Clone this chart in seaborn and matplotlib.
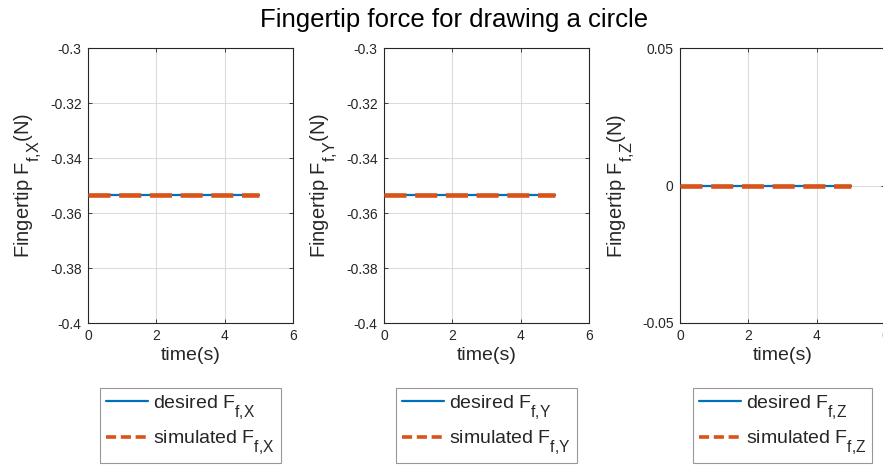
import inspect
import numpy as np
import pandas as pd
import matplotlib
matplotlib.use("Agg")
import matplotlib.pyplot as plt
import matplotlib._mathtext as mt
import seaborn as sns

# Time samples (s) and fingertip force components (N)
time_s = [0.0, 1.0, 2.0, 3.0, 4.0, 5.0]
desired_fx = [-0.3536, -0.3536, -0.3536, -0.3536, -0.3536, -0.3536]
simulated_fx = [-0.3536, -0.3536, -0.3536, -0.3536, -0.3536, -0.3536]
desired_fy = [-0.3536, -0.3536, -0.3536, -0.3536, -0.3536, -0.3536]
simulated_fy = [-0.3536, -0.3536, -0.3536, -0.3536, -0.3536, -0.3536]
desired_fz = [0.0, 0.0, 0.0, 0.0, 0.0, 0.0]
simulated_fz = [0.0, 0.0, 0.0, 0.0, 0.0, 0.0]

axis_names = ["X", "Y", "Z"]
x_ticks = [0, 2, 4, 6]
y_ticks_xy = [-0.4, -0.38, -0.36, -0.34, -0.32, -0.3]
y_ticklabels_xy = ["-0.4", "-0.38", "-0.36", "-0.34", "-0.32", "-0.3"]
y_ticks_z = [-0.05, 0, 0.05]
y_ticklabels_z = ["-0.05", "0", "0.05"]

sns.set_theme(style="white")
plt.rcParams["font.family"] = ["Liberation Sans", "DejaVu Sans"]
plt.rcParams["mathtext.default"] = "regular"

# TeX-style subscripts: larger and dropped lower than matplotlib's default
mt.SHRINK_FACTOR = 0.8
_sub_src = inspect.getsource(mt.Parser.subsuper)
_sub1 = 0.95 if "sub1 * xHeight" in _sub_src else 9.0
for _c in {mt.FontConstantsBase, *mt._font_constant_mapping.values()}:
    _c.sub1 = _sub1

BLUE = "#0072BD"
ORANGE = "#D95319"
DARK = "#262626"

fig = plt.figure(figsize=(8.83, 4.66), dpi=100)

lefts = [88 / 883, 384 / 883, 680 / 883]
width = 205 / 883
bottom = 1 - 323 / 466
height = 275 / 466

series = [
    (desired_fx, simulated_fx, y_ticks_xy, y_ticklabels_xy, (-0.4, -0.3)),
    (desired_fy, simulated_fy, y_ticks_xy, y_ticklabels_xy, (-0.4, -0.3)),
    (desired_fz, simulated_fz, y_ticks_z, y_ticklabels_z, (-0.05, 0.05)),
]

for i, (name, (des, sim, yt, ytl, ylim)) in enumerate(zip(axis_names, series)):
    ax = fig.add_axes([lefts[i], bottom, width, height])
    df = pd.DataFrame({"t": time_s, "desired": des, "simulated": sim})
    sns.lineplot(data=df, x="t", y="desired", ax=ax, color=BLUE, lw=1.6,
                 label=f"desired F$_{{f{{,}}{name}}}$", zorder=3)
    sns.lineplot(data=df, x="t", y="simulated", ax=ax, color=ORANGE, lw=3.3,
                 label=f"simulated F$_{{f{{,}}{name}}}$", zorder=4)
    ax.lines[1].set_dashes((4.8, 1.9))
    ax.lines[1].set_dash_capstyle("butt")

    ax.set_xlim(0, 6)
    ax.set_ylim(*ylim)
    ax.set_xticks(x_ticks)
    ax.set_xticklabels([str(v) for v in x_ticks])
    ax.set_yticks(yt)
    ax.set_yticklabels(ytl)
    ax.grid(True, color="#dcdcdc", lw=0.8)
    ax.set_axisbelow(True)
    for sp in ax.spines.values():
        sp.set_color(DARK)
        sp.set_linewidth(0.8)
    ax.tick_params(direction="in", length=3, width=0.6, colors=DARK,
                   labelsize=10, top=True, right=True,
                   bottom=True, left=True)
    ax.tick_params(axis="x", pad=4.5)
    ax.tick_params(axis="y", pad=4.5)
    ax.set_xlabel("time(s)", fontsize=14, color=DARK, labelpad=3)
    ax.set_ylabel(f"Fingertip F$_{{f{{,}}{name}}}$(N)", fontsize=14.5,
                  color=DARK, labelpad=4)

    leg = ax.legend(loc="upper center", bbox_to_anchor=(0.5, -0.235),
                    fontsize=14, frameon=True, fancybox=False,
                    edgecolor="#7f7f7f", handlelength=2.15, handletextpad=0.25,
                    labelspacing=0.4, borderpad=0.3, borderaxespad=0)
    leg.get_frame().set_linewidth(0.8)
    for txt in leg.get_texts():
        txt.set_color(DARK)
    handle = leg.get_lines()[1]
    handle.set_linewidth(2.6)
    handle.set_dashes((2.8, 1.3))

fig.text(454 / 883, 1 - 20 / 466, "Fingertip force for drawing a circle",
         ha="center", va="center", fontsize=18.5, color="black")

fig.savefig("out.png", dpi=100)
